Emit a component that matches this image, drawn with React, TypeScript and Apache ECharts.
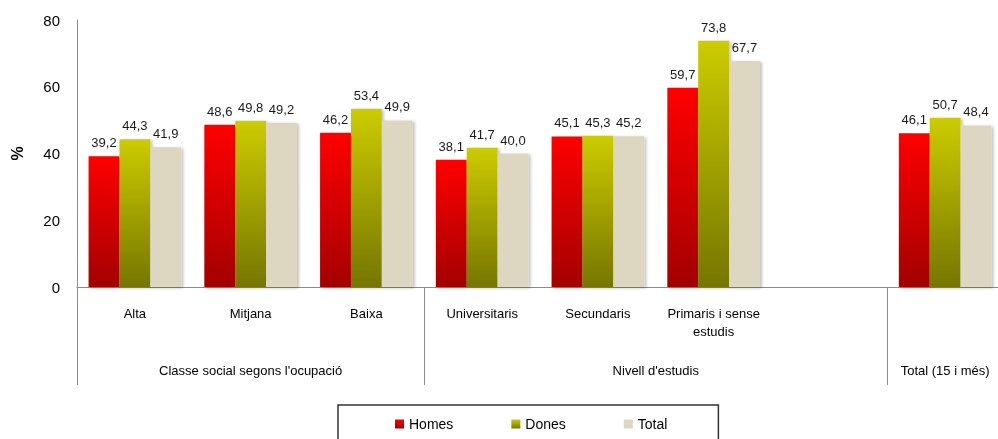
import React, { useEffect, useRef } from "react";
import * as echarts from "echarts";

const categories = ["Alta", "Mitjana", "Baixa", "Universitaris", "Secundaris", "Primaris i sense\nestudis", "", ""];
const homes = [39.2, 48.6, 46.2, 38.1, 45.1, 59.7, null, 46.1];
const dones = [44.3, 49.8, 53.4, 41.7, 45.3, 73.8, null, 50.7];
const total = [41.9, 49.2, 49.9, 40.0, 45.2, 67.7, null, 48.4];
const groupLabels: Record<string, string> = {
  "1.5": "Classe social segons l'ocupació",
  "5": "Nivell d'estudis",
  "7.5": "Total (15 i més)",
};
const yTicks = [0, 20, 40, 60, 80];

const FONT = "Liberation Sans, Arial, sans-serif";

export default function App() {
  const ref = useRef<HTMLDivElement>(null);
  useEffect(() => {
    if (!ref.current) return;
    const chart = echarts.init(ref.current, null, { renderer: "svg" });
    const grad = (top: string, bottom: string) =>
      new echarts.graphic.LinearGradient(0, 0, 0, 1, [
        { offset: 0, color: top },
        { offset: 1, color: bottom },
      ]);
    const labelCfg = {
      show: true,
      position: "top" as const,
      distance: 7,
      fontFamily: FONT,
      fontSize: 13,
      color: "#1a1a1a",
      formatter: (p: any) => (p.value == null ? "" : Number(p.value).toFixed(1).replace(".", ",")),
    };
    const shadow = { shadowBlur: 3, shadowColor: "rgba(0,0,0,0.25)", shadowOffsetX: 2, shadowOffsetY: 1 };
    chart.setOption({
      animation: false,
      textStyle: { fontFamily: FONT },
      grid: { left: 77, top: 20, height: 267, width: 926, outerBoundsMode: "none", containLabel: false },
      legend: {
        left: 338,
        top: 405,
        padding: [12, 51, 12, 57],
        itemGap: 58,
        itemWidth: 9,
        itemHeight: 9,
        icon: "rect",
        borderColor: "#333",
        borderWidth: 1.5,
        textStyle: { fontFamily: FONT, fontSize: 14, color: "#000" },
        data: ["Homes", "Dones", "Total"],
      },
      xAxis: [
        {
          type: "category",
          data: categories,
          axisLine: { lineStyle: { color: "#8c8c8c", width: 1 } },
          axisTick: {
            show: true,
            interval: (i: number) => i === 0 || i === 3 || i === 7,
            length: 98,
            lineStyle: { color: "#8c8c8c", width: 1 },
          },
          axisLabel: {
            interval: 0,
            margin: 17,
            fontFamily: FONT,
            fontSize: 13,
            lineHeight: 18,
            color: "#000",
          },
        },
        {
          type: "value",
          min: 0,
          max: 8,
          interval: 0.5,
          position: "bottom",
          axisLine: { show: false },
          axisTick: { show: false },
          splitLine: { show: false },
          axisLabel: {
            margin: 77,
            fontFamily: FONT,
            fontSize: 13,
            color: "#000",
            showMinLabel: true,
            showMaxLabel: true,
            formatter: (v: number) => groupLabels[String(v)] || "",
          },
        },
      ],
      yAxis: {
        type: "value",
        min: 0,
        max: 80,
        interval: 20,
        name: "%",
        nameLocation: "middle",
        nameRotate: 90,
        nameGap: 52,
        nameTextStyle: { fontFamily: FONT, fontSize: 16, fontWeight: "bold", color: "#000" },
        axisLine: { show: true, lineStyle: { color: "#8c8c8c", width: 1 } },
        axisTick: { show: false },
        splitLine: { show: false },
        axisLabel: {
          margin: 17,
          fontFamily: FONT,
          fontSize: 15,
          color: "#000",
          formatter: (v: number) => (yTicks.includes(v) ? String(v) : ""),
        },
      },
      series: [
        {
          name: "Homes",
          type: "bar",
          data: homes,
          barGap: "0%",
          barCategoryGap: "20%",
          itemStyle: { color: grad("#ff0000", "#a30000"), ...shadow },
          label: labelCfg,
        },
        {
          name: "Dones",
          type: "bar",
          data: dones,
          barGap: "0%",
          barCategoryGap: "20%",
          itemStyle: { color: grad("#cccc00", "#767600"), ...shadow },
          label: labelCfg,
        },
        {
          name: "Total",
          type: "bar",
          data: total,
          barGap: "0%",
          barCategoryGap: "20%",
          itemStyle: { color: "#ddd7c1", ...shadow },
          label: labelCfg,
        },
      ],
    });
    return () => chart.dispose();
  }, []);
  return <div ref={ref} style={{ width: 1012, height: 439, position: "fixed", left: 0, top: 0 }} />;
}
